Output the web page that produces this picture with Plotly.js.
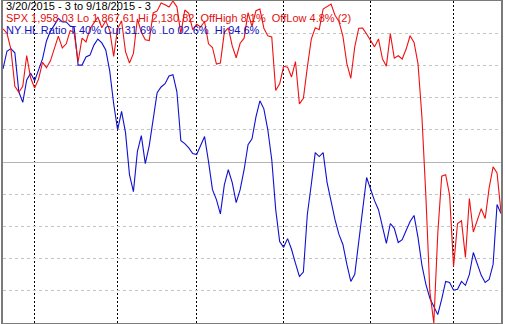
<!DOCTYPE html>
<html><head><meta charset="utf-8">
<script src="https://cdn.plot.ly/plotly-3.0.1.min.js"></script>
<style>html,body{margin:0;padding:0;background:#fff}#chart{width:505px;height:324px}</style>
</head><body><div id="chart"></div>
<script>
// Trading days 3/20/2015 .. 9/18/2015
const dates = [
'03/20','03/23','03/24','03/25','03/26','03/27','03/30','03/31',
'04/01','04/02','04/06','04/07','04/08','04/09','04/10','04/13','04/14','04/15','04/16','04/17','04/20','04/21','04/22','04/23','04/24','04/27','04/28','04/29','04/30',
'05/01','05/04','05/05','05/06','05/07','05/08','05/11','05/12','05/13','05/14','05/15','05/18','05/19','05/20','05/21','05/22','05/26','05/27','05/28','05/29',
'06/01','06/02','06/03','06/04','06/05','06/08','06/09','06/10','06/11','06/12','06/15','06/16','06/17','06/18','06/19','06/22','06/23','06/24','06/25','06/26','06/29','06/30',
'07/01','07/02','07/06','07/07','07/08','07/09','07/10','07/13','07/14','07/15','07/16','07/17','07/20','07/21','07/22','07/23','07/24','07/27','07/28','07/29','07/30','07/31',
'08/03','08/04','08/05','08/06','08/07','08/10','08/11','08/12','08/13','08/14','08/17','08/18','08/19','08/20','08/21','08/24','08/25','08/26','08/27','08/28','08/31',
'09/01','09/02','09/03','09/04','09/08','09/09','09/10','09/11','09/14','09/15','09/16','09/17','09/18'];

const spxClose = [
2108.10,2104.42,2091.50,2061.05,2056.15,2061.02,2086.24,2067.89,
2059.69,2066.96,2080.62,2076.33,2081.90,2091.18,2102.06,2092.43,2095.84,2106.63,2104.99,2081.18,2100.40,2097.29,2107.96,2112.93,2117.69,2108.92,2114.76,2106.85,2085.51,
2108.29,2114.49,2089.46,2080.15,2088.00,2116.10,2105.33,2099.12,2098.48,2121.10,2122.73,2129.20,2127.83,2125.85,2130.82,2126.06,2104.20,2123.48,2120.79,2107.39,
2111.73,2109.60,2114.07,2095.84,2092.83,2079.28,2080.15,2105.20,2108.86,2094.11,2084.43,2096.29,2100.44,2121.24,2109.99,2122.85,2124.20,2108.58,2102.31,2101.49,2057.64,2063.11,
2077.42,2076.78,2068.76,2081.34,2046.68,2051.31,2076.62,2099.60,2108.95,2107.40,2124.29,2126.64,2128.28,2119.21,2114.15,2102.15,2079.65,2067.64,2093.25,2108.57,2108.63,2103.84,
2098.04,2093.32,2099.84,2083.56,2077.57,2104.18,2084.07,2086.05,2083.39,2091.54,2102.44,2096.92,2079.61,2035.73,1970.89,1893.21,1867.61,1940.51,1987.66,1988.87,1972.18,
1913.85,1948.86,1951.13,1921.22,1969.41,1942.04,1952.29,1961.05,1953.03,1978.09,1995.31,1990.20,1958.03];

const nyHlRatio = [
78.9,84.4,85.2,83.9,71.8,68.5,75.5,77.6,
75.2,78.3,82.0,87.6,90.7,92.5,94.6,93.5,93.5,92.2,91.9,80.1,80.1,82.6,83.2,86.3,88.2,87.0,84.8,78.3,68.1,
60.0,65.7,59.1,46.1,40.8,53.2,58.2,49.5,55.1,63.1,71.5,73.3,74.3,76.7,77.1,71.8,56.6,55.7,54.4,52.6,
52.3,55.1,57.9,50.1,41.4,38.3,33.9,42.9,47.6,43.6,37.4,41.4,47.6,55.4,57.2,64.0,69.0,66.5,60.0,50.7,35.2,25.3,
23.5,26.2,22.9,18.5,14.5,15.8,33.7,43.0,52.9,51.7,52.9,43.6,37.4,32.1,27.5,24.4,18.2,12.9,15.1,26.0,35.2,45.2,
41.4,38.0,35.2,29.7,24.7,30.9,29.4,25.0,25.9,28.7,31.5,33.4,26.6,17.9,12.0,7.7,4.9,2.6,7.4,12.9,12.6,
10.2,10.5,12.9,11.7,15.1,21.9,18.5,14.8,12.6,13.5,18.2,36.8,34.0];

const spxLo = 1867.61, spxHi = 2130.82;
const header1 = '3/20/2015 - 3 to 9/18/2015 - 3';
const header2 = 'SPX 1,958.03 Lo 1,867.61 Hi 2,130.82  OffHigh 8.1%  OffLow 4.8% (2)';
const header3 = 'NY HL Ratio T 40% Cur 31.6%  Lo 02.6%  Hi 94.6%';
const pctGrid = [10,20,30,40,60,70,80,90];
const midLine = [50];

// first trading day of each month (vertical dotted lines)
const monthStarts = dates.filter((d,i)=> i>0 && d.slice(0,2)!==dates[i-1].slice(0,2));

const traces = [
 {x: dates, y: nyHlRatio, type:'scatter', mode:'lines', name:'NY HL Ratio',
  line:{color:'#1010d0', width:1.1}, yaxis:'y', hoverinfo:'skip'},
 {x: dates, y: spxClose, type:'scatter', mode:'lines', name:'SPX',
  line:{color:'#f01010', width:1.1}, yaxis:'y2', hoverinfo:'skip'}
];

const font = 'Liberation Sans, Arial, sans-serif';
const layout = {
 width:505, height:324,
 margin:{l:3, r:4, t:1, b:1, pad:0},
 paper_bgcolor:'#fff', plot_bgcolor:'#fff',
 showlegend:false,
 xaxis:{type:'category', range:[0, dates.length-1], tickmode:'array', tickvals:monthStarts,
   showticklabels:false, ticks:'', showgrid:true, gridcolor:'#000', gridwidth:1, griddash:'2px,2px',
   zeroline:false, showline:true, mirror:true, linecolor:'#7a7a7a', linewidth:2, fixedrange:true},
 yaxis:{range:[0,100], tickmode:'array', tickvals:pctGrid, showticklabels:false, ticks:'',
   showgrid:true, gridcolor:'#c4c4c4', gridwidth:1, griddash:'3px,3px', zeroline:false,
   showline:true, mirror:true, linecolor:'#7a7a7a', linewidth:2, fixedrange:true},
 yaxis2:{overlaying:'y', range:[spxLo, spxHi], showgrid:false, showticklabels:false, ticks:'',
   zeroline:false, showline:false, fixedrange:true},
 yaxis3:{overlaying:'y', range:[0,100], tickmode:'array', tickvals:midLine, showticklabels:false, ticks:'',
   showgrid:true, gridcolor:'#b4b4b4', gridwidth:1, zeroline:false, showline:false, fixedrange:true},
 annotations:[
  {xref:'paper', yref:'paper', x:0, y:0.983, xanchor:'left', yanchor:'middle', xshift:1, showarrow:false,
   text:header1, font:{family:font, size:11, color:'#000'}},
  {xref:'paper', yref:'paper', x:0, y:0.946, xanchor:'left', yanchor:'middle', xshift:1, showarrow:false,
   text:header2, font:{family:font, size:11, color:'#e01010'}},
  {xref:'paper', yref:'paper', x:0, y:0.909, xanchor:'left', yanchor:'middle', xshift:1, showarrow:false,
   text:header3, font:{family:font, size:11, color:'#1010c0'}}
 ]
};
// dummy trace to activate yaxis3 grid
traces.unshift({x:[dates[0]], y:[null], yaxis:'y3', type:'scatter', mode:'lines', showlegend:false, hoverinfo:'skip'});

Plotly.newPlot('chart', traces, layout, {staticPlot:true, displayModeBar:false});
</script></body></html>
